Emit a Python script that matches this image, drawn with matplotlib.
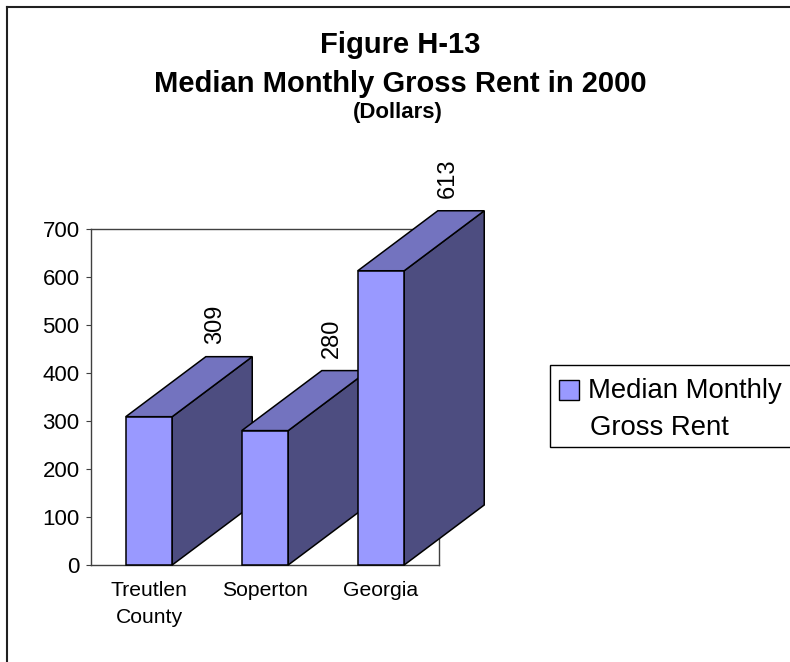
import matplotlib
matplotlib.use("Agg")
import matplotlib.pyplot as plt
from matplotlib.patches import Polygon, Rectangle
from matplotlib.lines import Line2D

plt.rcParams['font.family'] = ['Liberation Sans', 'DejaVu Sans']

# Median monthly gross rent, 2000 (dollars)
places = ['Treutlen\nCounty', 'Soperton', 'Georgia']
rent = [309, 280, 613]
yticks = [0, 100, 200, 300, 400, 500, 600, 700]

front_col = '#9999FF'
top_col = '#7373BF'
side_col = '#4D4D80'

W, H = 790, 662
fig = plt.figure(figsize=(W / 100, H / 100), dpi=100)

# plot area (back wall) in pixels: x 91..439, y 229..565
ax = fig.add_axes([91 / W, 1 - 565 / H, (439 - 91) / W, (565 - 229) / H])
ax.set_xlim(-0.5, 2.5)
ax.set_ylim(0, 700)
for s in ax.spines.values():
    s.set_color('#404040')
    s.set_linewidth(1.0)
    s.set_zorder(0.5)

ax.set_yticks(yticks)
ax.tick_params(axis='y', direction='out', length=3.6, width=0.8, color='#404040',
               labelsize=16, pad=4.6)
ax.set_xticks(range(len(places)))
ax.set_xticklabels(places, fontsize=15.2, linespacing=1.55)
ax.tick_params(axis='x', length=0, pad=11.5)

# 3d-ish bars: front face + top + side, pushed back by a fixed depth
bw = 0.40
dx = 0.69
dy = 125
for i, v in enumerate(rent):
    x0, x1 = i - bw / 2, i + bw / 2
    z = 2 + i
    side = [(x1, 0), (x1 + dx, dy), (x1 + dx, v + dy), (x1, v)]
    top = [(x0, v), (x1, v), (x1 + dx, v + dy), (x0 + dx, v + dy)]
    front = [(x0, 0), (x1, 0), (x1, v), (x0, v)]
    for pts, col in ((side, side_col), (top, top_col), (front, front_col)):
        ax.add_patch(Polygon(pts, closed=True, facecolor=col, edgecolor='black',
                             linewidth=1.1, joinstyle='miter', clip_on=False, zorder=z))
    ax.annotate(str(v), xy=(x0 + dx, v + dy), xytext=(7, 9), textcoords='offset points',
                rotation=90, ha='center', va='bottom', fontsize=17, zorder=10,
                annotation_clip=False)

# titles
fig.text(400 / W, 1 - 53 / H, 'Figure H-13', ha='center', va='baseline',
         fontsize=21, fontweight='bold')
fig.text(400 / W, 1 - 92 / H, 'Median Monthly Gross Rent in 2000', ha='center',
         va='baseline', fontsize=21, fontweight='bold')
fig.text(398 / W, 1 - 118 / H, '(Dollars)', ha='center', va='baseline',
         fontsize=16, fontweight='bold')

# legend box, runs off the right edge
fig.patches.append(Rectangle((550 / W, 1 - 447 / H), 300 / W, 82 / H,
                             transform=fig.transFigure, facecolor='white',
                             edgecolor='black', linewidth=1.0))
fig.patches.append(Rectangle((559 / W, 1 - 400 / H), 20 / W, 20 / H,
                             transform=fig.transFigure, facecolor=front_col,
                             edgecolor='black', linewidth=1.0))
fig.text(588 / W, 1 - 398 / H, 'Median Monthly', va='baseline', fontsize=19.8)
fig.text(590 / W, 1 - 435 / H, 'Gross Rent', va='baseline', fontsize=19.8)

# chart area border (top and left edges visible)
fig.lines.append(Line2D([7 / W, 7 / W], [0, 1 - 7 / H], transform=fig.transFigure,
                        color='#202020', linewidth=1.5))
fig.lines.append(Line2D([7 / W, 1], [1 - 7 / H, 1 - 7 / H], transform=fig.transFigure,
                        color='#202020', linewidth=1.5))

fig.savefig('out.png', dpi=100)
